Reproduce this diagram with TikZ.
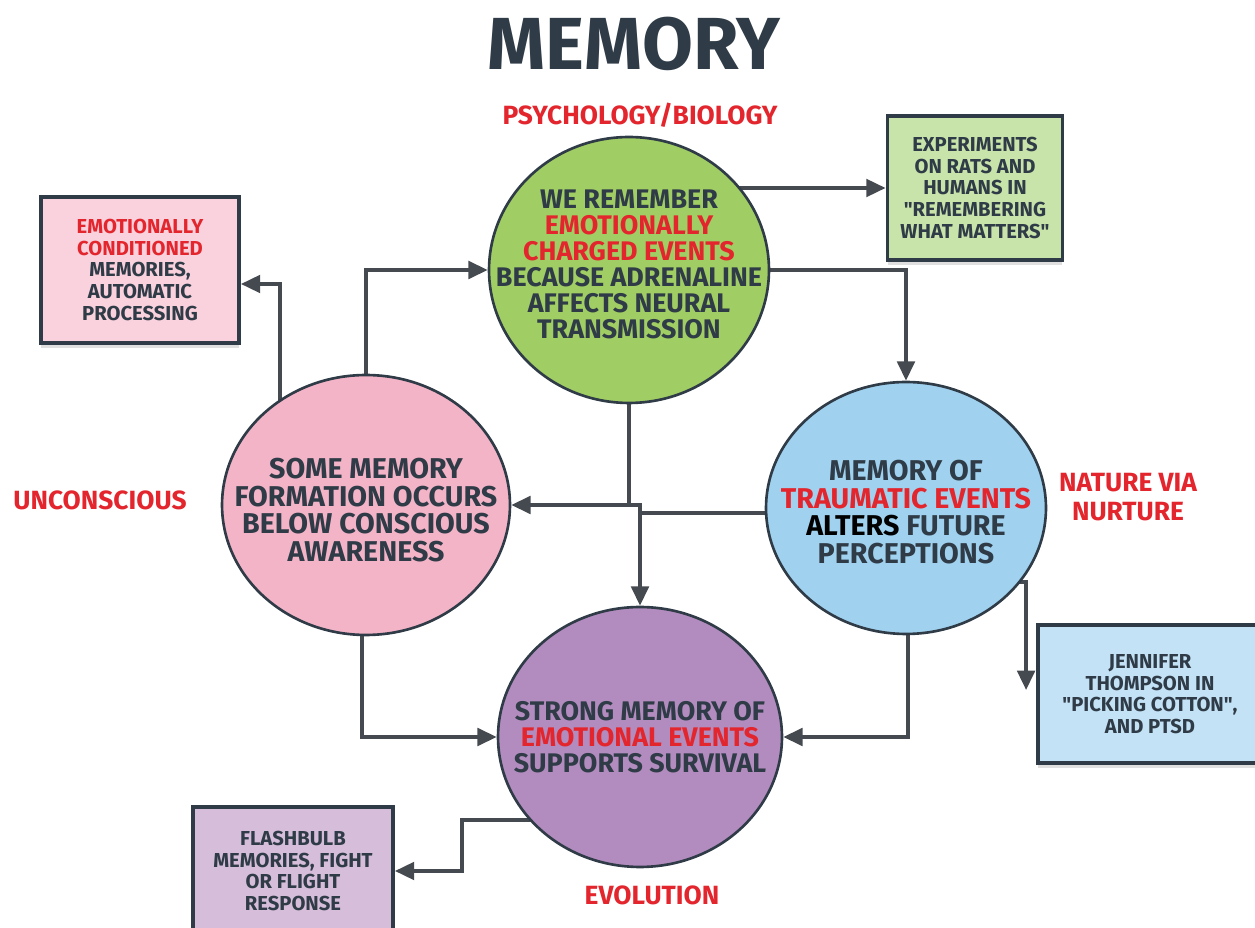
\documentclass[tikz,border=0pt]{standalone}
\usepackage{fontspec}
\setmainfont{Fira Sans}
\usetikzlibrary{shapes.geometric,arrows.meta,calc,backgrounds,shadows}
\definecolor{ink}{HTML}{2F3B46}
\definecolor{linec}{HTML}{454A50}
\definecolor{hot}{HTML}{E3262D}
\definecolor{cgreen}{HTML}{A0CD64}
\definecolor{cpink}{HTML}{F4B4C8}
\definecolor{cblue}{HTML}{A0D2F0}
\definecolor{cpurple}{HTML}{B28CBE}
\definecolor{bgreen}{HTML}{C8E4AA}
\definecolor{bpink}{HTML}{FAD2DE}
\definecolor{bblue}{HTML}{C4E2F6}
\definecolor{bpurple}{HTML}{D6BEDA}
\newcommand{\hl}[1]{\textcolor{hot}{#1}}
\newcommand{\qq}{\textquotedbl}
\begin{document}
\begin{tikzpicture}[x=0.02cm,y=-0.02cm,
  circ/.style={ellipse,draw=ink,line width=1.5pt,inner sep=0pt},
  circtext/.style={align=center,text=ink,inner sep=0pt,
    font=\bfseries\fontsize{15.3}{14.8}\selectfont},
  bigtext/.style={circtext,font=\bfseries\fontsize{16.3}{15.8}\selectfont},
  infobox/.style={rectangle,draw=ink,line width=2.2pt,inner sep=0pt,align=center,text=ink,
    font=\bfseries\fontsize{11.5}{12.3}\selectfont,
    drop shadow={shadow xshift=0pt,shadow yshift=-3pt,opacity=0.25}},
  tag/.style={text=hot,font=\bfseries\fontsize{15}{16.5}\selectfont,align=center,inner sep=0pt},
  arr/.style={draw=linec,line width=2pt,-{Triangle[length=11pt,width=10pt]}},
]
\useasboundingbox (0,0) rectangle (1255,928);

% title and labels
\node[text=ink,font=\bfseries\fontsize{42}{44}\selectfont,inner sep=0pt] (title) at (634,44) {MEMORY};
\node[tag] (psy) at (640,115) {PSYCHOLOGY/BIOLOGY};
\node[tag] (unc) at (100,500) {UNCONSCIOUS};
\node[tag] (nat) at (1128,497) {NATURE VIA\\NURTURE};
\node[tag] (evo) at (652,895) {EVOLUTION};

% circles
\node[circ,fill=cgreen,minimum width=5.6cm,minimum height=5.32cm] (green) at (629,270) {};
\node[circtext] (greentext) at (629,264)
  {WE REMEMBER\\\hl{EMOTIONALLY}\\\hl{CHARGED EVENTS}\\BECAUSE ADRENALINE\\AFFECTS NEURAL\\TRANSMISSION};
\node[circ,fill=cpink,minimum width=5.76cm,minimum height=5.2cm] (pink) at (366,505) {};
\node[bigtext] (pinktext) at (366,510)
  {SOME MEMORY\\FORMATION OCCURS\\BELOW CONSCIOUS\\AWARENESS};
\node[circ,fill=cblue,minimum width=5.6cm,minimum height=5.04cm] (blue) at (906,508) {};
\node[bigtext] (bluetext) at (906,512)
  {MEMORY OF\\\hl{TRAUMATIC EVENTS}\\\textcolor{black}{ALTERS} FUTURE\\PERCEPTIONS};
\node[circ,fill=cpurple,minimum width=5.68cm,minimum height=5.2cm] (purple) at (640,737) {};
\node[circtext] (purpletext) at (purple.center)
  {STRONG MEMORY OF\\\hl{EMOTIONAL EVENTS}\\SUPPORTS SURVIVAL};

% boxes
\node[infobox,fill=bgreen,minimum width=3.5cm,minimum height=2.88cm] (exp) at (975,188)
  {EXPERIMENTS\\ON RATS AND\\HUMANS IN\\\qq REMEMBERING\\WHAT MATTERS\qq};
\node[infobox,fill=bpink,minimum width=3.96cm,minimum height=2.92cm] (emo) at (140,270)
  {\hl{EMOTIONALLY}\\\hl{CONDITIONED}\\MEMORIES,\\AUTOMATIC\\PROCESSING};
\node[infobox,fill=bblue,minimum width=4.48cm,minimum height=2.76cm] (jen) at (1150,694)
  {JENNIFER\\THOMPSON IN\\\qq PICKING COTTON\qq,\\AND PTSD};
\node[infobox,fill=bpurple,minimum width=4.0cm,minimum height=2.56cm] (flash) at (293,871)
  {FLASHBULB\\MEMORIES, FIGHT\\OR FLIGHT\\RESPONSE};

\coordinate (jtip) at ($(jen.west)+(-10,-4)$);
\coordinate (fb) at ($(flash.east)+(67,-51)$);

\begin{scope}[on background layer]
\draw[arr] (pink.center) |- (green.west);
\draw[arr] ($(pink.center)+(-86,0)$) |- ($(emo.east)+(0,14)$);
\draw[arr] (green.center |- exp.west) -- (exp.west);
\draw[arr] (green.center) -| (blue.north);
\draw[arr] (green.center) -- (green.center |- pink.east) -- (purple.north |- pink.east) -- (purple.north);
\draw[arr] ($(blue.center)+(0,5)$) -| (purple.north |- pink.east) -- (pink.east);
\draw[arr] ($(pink.center)+(-4,0)$) |- (purple.west);
\draw[arr] ($(blue.center)+(2,0)$) |- (purple.east);
\draw[arr] ($(blue.center)+(0,74)$) -| (jtip);
\draw[arr] (purple.center |- fb) -- (fb) |- (flash.east);
\end{scope}
\end{tikzpicture}
\end{document}
